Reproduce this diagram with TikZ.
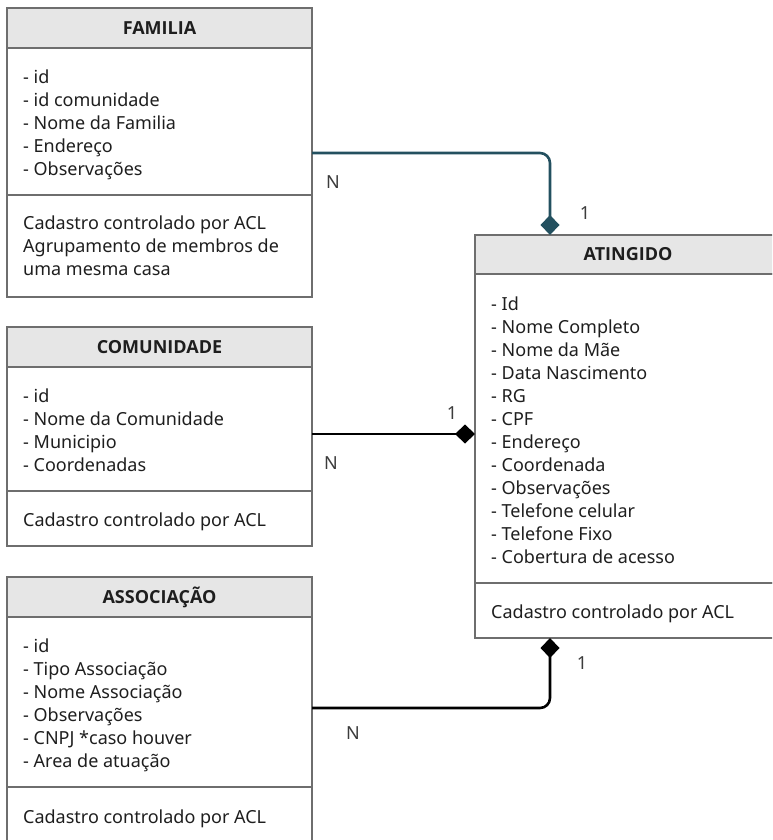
\documentclass[tikz,border=0pt]{standalone}
\usepackage{fontspec}
\setmainfont{Noto Sans}
\newfontfamily\hdrfont{Open Sans}
\usetikzlibrary{arrows.meta,positioning}
\definecolor{boxline}{RGB}{110,110,110}
\definecolor{hdrgray}{RGB}{230,230,230}
\definecolor{relteal}{RGB}{35,80,95}
\definecolor{txtcol}{RGB}{30,30,30}
\definecolor{cardcol}{RGB}{60,60,60}

\tikzset{
  ent/.style={draw=boxline,line width=2pt,outer sep=0pt,inner sep=0pt,minimum width=305pt,anchor=north west},
  hdr/.style={ent,fill=hdrgray,minimum height=40pt,font=\hdrfont\fontsize{18}{20}\selectfont\bfseries,text=txtcol},
  txt/.style={anchor=north west,inner sep=0pt,align=left,text=txtcol,font=\fontsize{18}{23}\selectfont},
  card/.style={text=cardcol,font=\fontsize{18}{20}\selectfont},
  rel/.style={line width=2.6pt,rounded corners=10pt,-{Diamond[length=20pt,width=19pt]}}
}

\begin{document}
\begin{tikzpicture}[x=1pt,y=-1pt]
\useasboundingbox (0,0) rectangle (772,840);
\clip (0,0) rectangle (772,840);
% FAMILIA
\node[hdr] (famH) at (7,8) {FAMILIA};
\node[ent,minimum height=147pt,below=0pt of famH] (famA) {};
\node[ent,minimum height=101.5pt,below=0pt of famA] (famF) {};
\node[txt] (famAt) at ([xshift=16pt,yshift=-22pt]famA.north west) {- id\\- id comunidade\\- Nome da Familia\\- Endereço\\- Observações};
\node[txt] (famFt) at ([xshift=16pt,yshift=-21pt]famF.north west) {Cadastro controlado por ACL\\Agrupamento de membros de\\uma mesma casa};
% COMUNIDADE
\node[hdr] (comH) at (7,327) {COMUNIDADE};
\node[ent,minimum height=124pt,below=0pt of comH] (comA) {};
\node[ent,minimum height=55pt,below=0pt of comA] (comF) {};
\node[txt] (comAt) at ([xshift=16pt,yshift=-22pt]comA.north west) {- id\\- Nome da Comunidade\\- Municipio\\- Coordenadas};
\node[txt] (comFt) at ([xshift=16pt,yshift=-22pt]comF.north west) {Cadastro controlado por ACL};
% ASSOCIACAO
\node[hdr] (assH) at (7,577) {ASSOCIAÇÃO};
\node[ent,minimum height=170pt,below=0pt of assH] (assA) {};
\node[ent,minimum height=70pt,below=0pt of assA] (assF) {};
\node[txt] (assAt) at ([xshift=16pt,yshift=-22pt]assA.north west) {- id\\- Tipo Associação\\- Nome Associação\\- Observações\\- CNPJ *caso houver\\- Area de atuação};
\node[txt] (assFt) at ([xshift=16pt,yshift=-23pt]assF.north west) {Cadastro controlado por ACL};
% ATINGIDO
\node[hdr,minimum width=330pt,minimum height=39pt] (atgH) at (475,235) {\hspace*{-24pt}ATINGIDO};
\node[ent,minimum width=330pt,minimum height=309pt,below=0pt of atgH] (atgA) {};
\node[ent,minimum width=330pt,minimum height=55pt,below=0pt of atgA] (atgF) {};
\node[txt] (atgAt) at ([xshift=16pt,yshift=-23pt]atgA.north west) {- Id\\- Nome Completo\\- Nome da Mãe\\- Data Nascimento\\- RG\\- CPF\\- Endereço\\- Coordenada\\- Observações\\- Telefone celular\\- Telefone Fixo\\- Cobertura de acesso};
\node[txt] (atgFt) at ([xshift=16pt,yshift=-22pt]atgF.north west) {Cadastro controlado por ACL};

% relations
\coordinate (famR) at ([yshift=-105pt]famA.north east);
\coordinate (atgTop) at ([xshift=75pt]atgH.north west);
\draw[rel,draw=relteal] (famR) -| (atgTop);
\coordinate (comR) at ([yshift=-67pt]comA.north east);
\draw[rel,draw=black] (comR) -- (atgA.west |- comR);
\coordinate (assR) at ([yshift=-91pt]assA.north east);
\coordinate (atgBot) at ([xshift=75pt]atgF.south west);
\draw[rel,draw=black] (assR) -| (atgBot);

% cardinalities
\node[card] (famN) at (333,182) {N};
\node[card] (famOne) at (585,213) {1};
\node[card] (comN) at (331,463) {N};
\node[card] (comOne) at (452,413) {1};
\node[card] (assN) at (353,733) {N};
\node[card] (assOne) at (582,663) {1};
\end{tikzpicture}
\end{document}
